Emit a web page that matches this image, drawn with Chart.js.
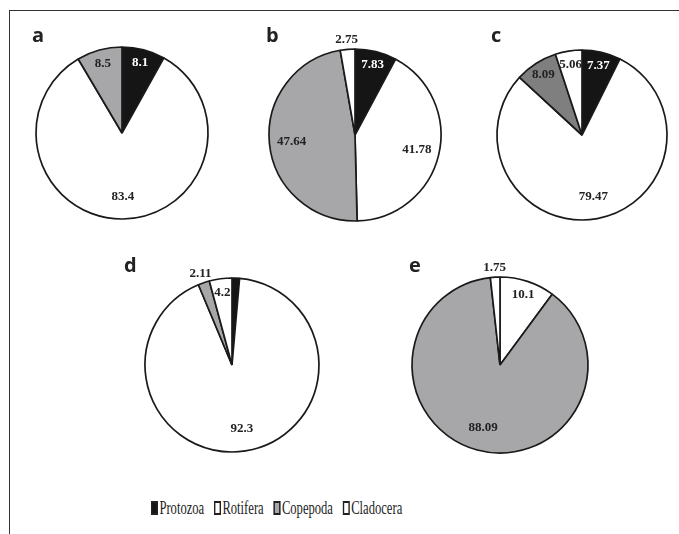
<!DOCTYPE html>
<html>
<head>
<meta charset="utf-8">
<script src="https://cdn.jsdelivr.net/npm/chart.js@4.4.0/dist/chart.umd.min.js"></script>
<style>
  body { margin: 0; background: #fff; }
  #lienzo { position: relative; width: 679px; height: 534px; overflow: hidden; }
  #marco { position: absolute; left: 9px; top: 10px; width: 680px; height: 540px;
           border-top: 1.5px solid #333; border-left: 1.5px solid #333; }
  .tarta { position: absolute; }
  .letra { position: absolute; font-family: "Open Sans", sans-serif; font-weight: bold;
           font-size: 20px; line-height: 20px; color: #222; }
  #leyenda { position: absolute; left: 151px; top: 499px; white-space: nowrap;
             font-family: "Liberation Serif", serif; font-size: 18px; line-height: 18px; color: #1e1e1e;
             transform: scaleX(0.7); transform-origin: 0 0; }
  #leyenda span.item { display: inline-block; margin-right: 14px; }
  #leyenda span.caja { display: inline-block; width: 6px; height: 10px; border: 2px solid #222;
                       margin-right: 2px; vertical-align: -1px; }
</style>
</head>
<body>
<div id="lienzo">
  <div id="marco"></div>
  <div id="leyenda"></div>
</div>
<script>
// Datos (% de cada grupo, en el orden de las categorías)
var categorias = ["Protozoa", "Rotifera", "Copepoda", "Cladocera"];
var paneles = ["a", "b", "c", "d", "e"];
var valoresA = [8.1, 83.4, 8.5, 0];
var valoresB = [7.83, 41.78, 47.64, 2.75];
var valoresC = [7.37, 79.47, 8.09, 5.06];
var valoresD = [1.39, 92.3, 2.11, 4.2];
var valoresE = [0, 10.1, 88.09, 1.75];

var colores = ["#151515", "#ffffff", "#a7a7a9", "#ffffff"];
var coloresC = ["#151515", "#ffffff", "#7f7f7f", "#ffffff"];

// cx, cy, radio, posicion de la letra
var disposicion = [
    {cx: 122, cy: 133, r: 86, lx: 32, ly: 25},
    {cx: 355, cy: 135, r: 86, lx: 266, ly: 25},
    {cx: 582, cy: 135, r: 85, lx: 491, ly: 25},
    {cx: 232, cy: 365, r: 87, lx: 124, ly: 255},
    {cx: 500, cy: 365, r: 88, lx: 409, ly: 255}
];
var series = [valoresA, valoresB, valoresC, valoresD, valoresE];

/* plugin para las etiquetas de valor */
var etiquetas = {
    id: 'etiquetas',
    afterDatasetsDraw: function (chart) {
        var ctx = chart.ctx;
        var meta = chart.getDatasetMeta(0);
        var datos = chart.data.datasets[0].data;
        var fondos = chart.data.datasets[0].backgroundColor;
        ctx.save();
        ctx.font = 'bold 13px "Liberation Serif", serif';
        ctx.textAlign = 'center';
        ctx.textBaseline = 'middle';
        meta.data.forEach(function (arco, i) {
            var v = datos[i];
            if (!v) return;
            var medio = (arco.startAngle + arco.endAngle) / 2;
            var d;
            if (v < 3) d = arco.outerRadius + 10;
            else if (v < 11) d = arco.outerRadius * 0.84;
            else d = arco.outerRadius * 0.74;
            var x = arco.x + Math.cos(medio) * d;
            var y = arco.y + Math.sin(medio) * d;
            ctx.fillStyle = fondos[i] === "#151515" ? "#ffffff" : "#222222";
            ctx.fillText(String(v), x, y);
        });
        ctx.restore();
    }
};

var lienzo = document.getElementById("lienzo");
for (var p = 0; p < paneles.length; p++) {
    var dis = disposicion[p];
    var lado = 230;
    var canvas = document.createElement("canvas");
    canvas.className = "tarta";
    canvas.width = lado;
    canvas.height = lado;
    canvas.style.left = (dis.cx - lado / 2) + "px";
    canvas.style.top = (dis.cy - lado / 2) + "px";
    lienzo.appendChild(canvas);

    var letra = document.createElement("div");
    letra.className = "letra";
    letra.textContent = paneles[p];
    letra.style.left = dis.lx + "px";
    letra.style.top = dis.ly + "px";
    lienzo.appendChild(letra);

    new Chart(canvas.getContext("2d"), {
        type: "pie",
        data: {
            labels: categorias,
            datasets: [{
                data: series[p],
                backgroundColor: p === 2 ? coloresC : colores,
                borderColor: "#1a1a1a",
                borderWidth: 1.7
            }]
        },
        options: {
            responsive: false,
            animation: false,
            radius: dis.r,
            layout: {padding: 0},
            plugins: {legend: {display: false}, tooltip: {enabled: false}}
        },
        plugins: [etiquetas]
    });
}

// Leyenda
var leyenda = document.getElementById("leyenda");
categorias.forEach(function (c, i) {
    var item = document.createElement("span");
    item.className = "item";
    var caja = document.createElement("span");
    caja.className = "caja";
    caja.style.background = colores[i];
    item.appendChild(caja);
    item.appendChild(document.createTextNode(c));
    leyenda.appendChild(item);
});
</script>
</body>
</html>
